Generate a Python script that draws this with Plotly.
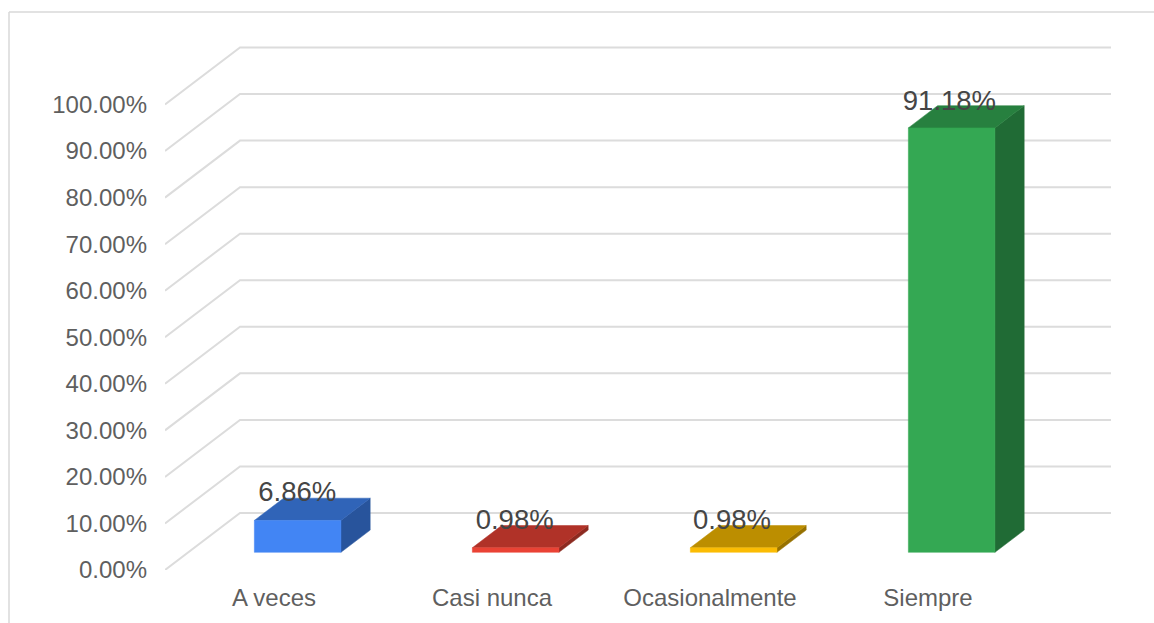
import plotly.graph_objects as go

categories = ["A veces", "Casi nunca", "Ocasionalmente", "Siempre"]
values = [6.86, 0.98, 0.98, 91.18]
value_labels = ["6.86%", "0.98%", "0.98%", "91.18%"]
tick_values = [0, 10, 20, 30, 40, 50, 60, 70, 80, 90, 100]
tick_labels = ["0.00%", "10.00%", "20.00%", "30.00%", "40.00%", "50.00%",
               "60.00%", "70.00%", "80.00%", "90.00%", "100.00%"]
front_colors = ["#4285F4", "#EA4335", "#FBBC04", "#34A853"]
top_colors = ["#3064B8", "#B03228", "#BC8E00", "#27803F"]
side_colors = ["#28549C", "#8C2A20", "#967100", "#206B35"]

# Scales (pixels per data unit) and the pseudo-3D depth projection
W, H = 1154, 623
LEFT, BOTTOM = 165, 570
PX_X = 218.0
PX_Y = 4.655
DX = 75 / PX_X
DY = 57 / PX_Y
WALL = 871 / PX_X
HALF = 43.3 / PX_X
D0, D1 = 0.31, 0.70
X0 = -0.5
LABEL_STEP = 217.4 / PX_X


def proj(x, v, d):
    return x + d * DX, v + d * DY


def poly(points, color):
    return go.Scatter(
        x=[p[0] for p in points] + [points[0][0]],
        y=[p[1] for p in points] + [points[0][1]],
        mode="lines", fill="toself", fillcolor=color,
        line=dict(color=color, width=0.5),
        hoverinfo="skip", showlegend=False,
    )


fig = go.Figure()

# Walls: floor diagonal + back-wall gridline for every tick
for t in tick_values:
    a = proj(X0, t, 0)
    b = proj(X0, t, 1)
    fig.add_trace(go.Scatter(
        x=[a[0], b[0], b[0] + WALL], y=[a[1], b[1], b[1]],
        mode="lines", line=dict(color="#DCDCDC", width=2),
        hoverinfo="skip", showlegend=False,
    ))

# Bars
for i, v in enumerate(values):
    c = i + 0.4 / PX_X
    l, r = c - HALF, c + HALF
    fig.add_trace(poly([proj(r, 0, D0), proj(r, 0, D1), proj(r, v, D1), proj(r, v, D0)], side_colors[i]))
    fig.add_trace(poly([proj(l, v, D0), proj(r, v, D0), proj(r, v, D1), proj(l, v, D1)], top_colors[i]))
    fig.add_trace(poly([proj(l, 0, D0), proj(r, 0, D0), proj(r, v, D0), proj(l, v, D0)], front_colors[i]))

# Value labels
fig.add_trace(go.Scatter(
    x=[proj(i * LABEL_STEP, v, D0)[0] for i, v in enumerate(values)],
    y=[proj(i, v, D0)[1] + (26 if v < 50 else 25) / PX_Y for i, v in enumerate(values)],
    mode="text", text=value_labels, textposition="middle center",
    textfont=dict(family="Liberation Sans", size=27.5, color="#454545"),
    hoverinfo="skip", showlegend=False,
))

fig.update_layout(
    width=W, height=H, autosize=False,
    margin=dict(l=LEFT, r=0, t=0, b=H - BOTTOM, pad=0),
    paper_bgcolor="white", plot_bgcolor="white",
    showlegend=False,
    xaxis=dict(
        range=[X0, X0 + (W - LEFT) / PX_X],
        tickmode="array", tickvals=list(range(len(categories))), ticktext=categories,
        showgrid=False, zeroline=False, showline=False, ticks="", ticklabelstandoff=11,
        tickfont=dict(family="Liberation Sans", size=24, color="#5F5F5F"),
    ),
    yaxis=dict(
        range=[0, BOTTOM / PX_Y],
        tickmode="array", tickvals=tick_values, ticktext=tick_labels,
        showgrid=False, zeroline=False, showline=False, ticks="", ticklabelstandoff=17,
        tickfont=dict(family="Liberation Sans", size=24, color="#5F5F5F"),
    ),
    shapes=[
        dict(type="line", xref="paper", yref="paper",
             x0=(9 - LEFT) / (W - LEFT), x1=1, y0=(BOTTOM - 12) / BOTTOM, y1=(BOTTOM - 12) / BOTTOM,
             line=dict(color="#D9D9D9", width=1.5)),
        dict(type="line", xref="paper", yref="paper",
             x0=(9 - LEFT) / (W - LEFT), x1=(9 - LEFT) / (W - LEFT), y0=(BOTTOM - 12) / BOTTOM, y1=(BOTTOM - H) / BOTTOM,
             line=dict(color="#D9D9D9", width=1.5)),
    ],
)

fig.write_html("out.html", config={"displayModeBar": False},
               post_script="document.body.style.margin='0';")
